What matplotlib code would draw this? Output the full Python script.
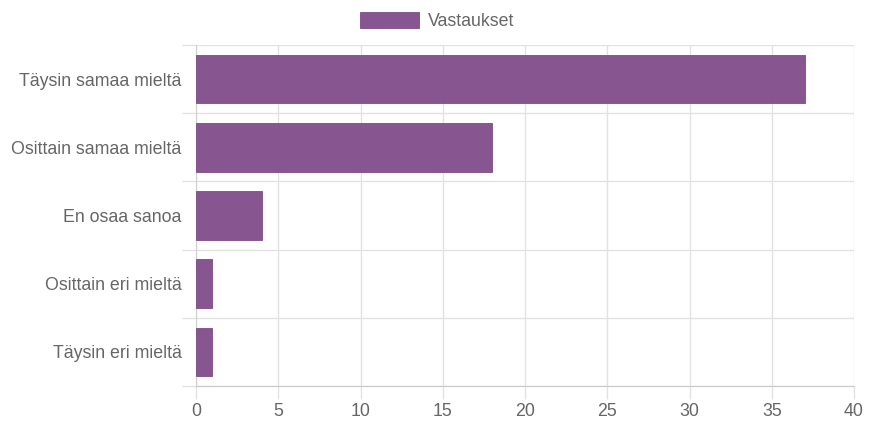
import numpy as np
import matplotlib.pyplot as plt

categories = ["Täysin samaa mieltä", "Osittain samaa mieltä", "En osaa sanoa",
              "Osittain eri mieltä", "Täysin eri mieltä"]
values = [37, 18, 4, 1, 1]
series_name = "Vastaukset"

bar_color = "#87558f"
grid_color = "#e2e2e2"
text_color = "#666666"

plt.rcParams['font.family'] = ['Liberation Sans', 'DejaVu Sans']

fig = plt.figure(figsize=(8.74, 4.21), dpi=100)
ax = fig.add_axes([196 / 874, 35 / 421, 658 / 874, 341 / 421])

y = np.arange(len(categories))
ax.barh(y, values, height=0.71, color=bar_color, edgecolor="#7d4c86",
        linewidth=0.6, label=series_name, zorder=3)

ax.set_ylim(len(categories) - 0.5, -0.5)
ax.set_xlim(0, 40)
ax.set_xticks(np.arange(0, 41, 5))
ax.set_yticks(y)
ax.set_yticklabels(categories)
ax.set_yticks(np.arange(-0.5, len(categories), 1), minor=True)

ax.tick_params(axis="y", which="major", length=0, pad=10.5, labelsize=12.8, labelcolor=text_color)
ax.tick_params(axis="y", which="minor", length=10, color=grid_color, width=1)
ax.tick_params(axis="x", which="major", length=9, color=grid_color, width=1,
               labelsize=12.8, labelcolor=text_color, pad=3.5)

ax.grid(True, axis="x", which="major", color=grid_color, linewidth=1, zorder=0)
ax.grid(True, axis="y", which="minor", color=grid_color, linewidth=1, zorder=0)

for side in ["top", "right"]:
    ax.spines[side].set_visible(False)
ax.spines["left"].set_color("#d0d0d0")
ax.spines["bottom"].set_color("#c8c8c8")

fig.legend(loc="center", bbox_to_anchor=(437 / 874, 1 - 21 / 421), frameon=False,
           fontsize=12.8, labelcolor=text_color, handlelength=3.3, handleheight=1.0,
           handletextpad=0.5)

fig.savefig("out.png", dpi=100)
